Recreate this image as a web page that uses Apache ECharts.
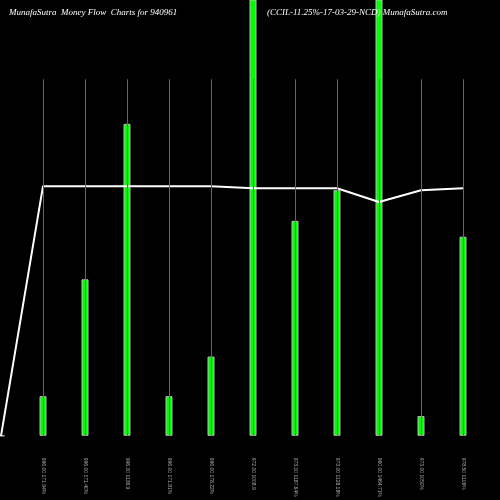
<!DOCTYPE html>
<html><head><meta charset="utf-8">
<script src="https://cdn.jsdelivr.net/npm/echarts@6/dist/echarts.min.js"></script>
<style>html,body{margin:0;background:#000}#c{width:500px;height:500px}</style>
</head><body><div id="c"></div>
<script>
const categories = ["", "996.00 171.94%", "996.00 171.40%", "996.00 1136.9", "996.00 171.81%", "996.00 178.22%", "972.00 1008.9", "973.00 1187.64%", "973.00 1128.18%", "960.00 1464.71%", "973.00 1050%", "978.50 1106%"];
const flowValues = [0, 40, 158, 315, 40, 80, 500, 217, 248, 500, 20, 201];
const priceLine = [0, 252, 252, 252, 252, 252, 250, 250, 250, 236, 248, 250];
const guideTop = 360;

const chart = echarts.init(document.getElementById('c'));
chart.setOption({
  backgroundColor: '#000',
  animation: false,
  title: [
    {text: 'MunafaSutra  Money Flow  Charts for 940961', left: 4, top: 3, textStyle: {color: '#fff', fontSize: 9, fontStyle: 'italic', fontWeight: 'normal', fontFamily: 'Liberation Serif'}},
    {text: '(CCIL-11.25%-17-03-29-NCD) MunafaSutra.com', left: 262, top: 3, textStyle: {color: '#fff', fontSize: 9, fontStyle: 'italic', fontWeight: 'normal', fontFamily: 'Liberation Serif'}}
  ],
  grid: {left: 1, right: 37, top: 0, bottom: 60},
  xAxis: {type: 'category', data: categories, boundaryGap: false,
    axisLine: {show: false}, axisTick: {show: false}, splitLine: {show: false},
    axisLabel: {rotate: -90, color: '#aaa', fontSize: 5, margin: 22, interval: 0}},
  yAxis: [
    {type: 'value', min: 0, max: 440, show: false},
    {type: 'value', min: 0, max: 440, show: false}
  ],
  series: [
    {type: 'bar', data: flowValues, barWidth: 7,
      itemStyle: {color: '#00ff00', borderColor: '#bbb', borderWidth: 1},
      markLine: {symbol: 'none', silent: true, label: {show: false},
        emphasis: {disabled: true},
        lineStyle: {color: '#a05a00', width: 1, type: 'solid', opacity: 1},
        data: categories.slice(1).map((c, i) => [{coord: [i + 1, 0], lineStyle: {color: '#a05a00'}}, {coord: [i + 1, guideTop]}])},
      z: 3},
    {type: 'line', data: priceLine, yAxisIndex: 1, symbol: 'none',
      lineStyle: {color: '#fff', width: 2}, z: 4}
  ]
});
</script></body></html>
